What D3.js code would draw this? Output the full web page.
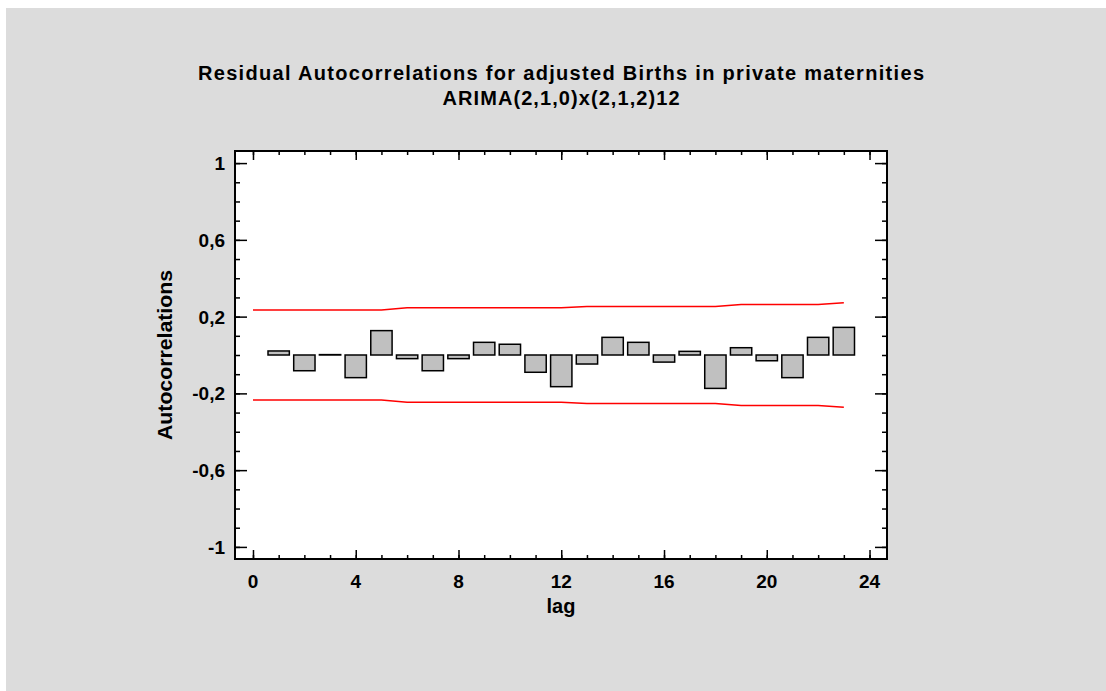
<!DOCTYPE html>
<html>
<head>
<meta charset="utf-8">
<script src="https://cdn.jsdelivr.net/npm/d3@7"></script>
<style>
    body{margin:0;background:#ffffff;}
    text{font-family:"Liberation Sans", Arial, sans-serif;font-weight:bold;fill:#000;}
</style>
</head>
<body>
<script>
//data
var lags=[1,2,3,4,5,6,7,8,9,10,11,12,13,14,15,16,17,18,19,20,21,22,23];
var acf=[0.021,-0.082,0.002,-0.118,0.127,-0.019,-0.082,-0.019,0.066,0.056,-0.09,-0.165,
         -0.047,0.092,0.066,-0.037,0.019,-0.174,0.038,-0.03,-0.118,0.092,0.144];
//probability limits, one point per lag 0..23
var limitLags=[0,1,2,3,4,5,6,7,8,9,10,11,12,13,14,15,16,17,18,19,20,21,22,23];
var limits=[0.235,0.235,0.235,0.235,0.235,0.235,0.246,0.246,0.246,0.246,0.246,0.246,0.246,
            0.253,0.253,0.253,0.253,0.253,0.253,0.263,0.263,0.263,0.263,0.272];
var xTicks=[0,4,8,12,16,20,24];
var yTicks=[-1,-0.6,-0.2,0.2,0.6,1];
var titleLines=["Residual Autocorrelations for adjusted Births in private maternities","ARIMA(2,1,0)x(2,1,2)12"];

function drawChart()
{
    var W=1106,H=691;
    var ml=235,mt=151,w=652,h=408;

    var svg=d3.select("body").append("svg").attr("width",W).attr("height",H);

    //grey panel
    svg.append("rect").attr("x",6).attr("y",8).attr("width",W-6).attr("height",H-8).attr("fill","#dcdcdc");

    var x=d3.scaleLinear().domain([-0.7,24.68]).range([ml,ml+w]);
    var y=d3.scaleLinear().domain([-1.063,1.063]).range([mt+h,mt]);

    //plot area
    svg.append("rect").attr("x",ml).attr("y",mt).attr("width",w).attr("height",h).attr("fill","#fff");

    var fmt=function(d){return String(d).replace(".",",");};

    //axes, ticks inside on all four sides
    var g=svg.append("g");
    function tickSet(axis,tr,len){
        g.append("g").attr("transform",tr)
            .call(axis.tickSizeInner(len).tickSizeOuter(0).tickFormat(""))
            .call(function(s){s.select(".domain").remove();s.selectAll("line").attr("stroke","#000").attr("stroke-width",1.5);});
    }
    var xMinor=d3.range(0,25,1), yMinor=d3.range(-10,11,1).map(function(d){return d/10;});
    tickSet(d3.axisTop(x).tickValues(xMinor),"translate(0,"+(mt+h)+")",4);
    tickSet(d3.axisTop(x).tickValues(xTicks),"translate(0,"+(mt+h)+")",9);
    tickSet(d3.axisBottom(x).tickValues(xMinor),"translate(0,"+mt+")",4);
    tickSet(d3.axisBottom(x).tickValues(xTicks),"translate(0,"+mt+")",9);
    tickSet(d3.axisRight(y).tickValues(yMinor),"translate("+ml+",0)",5);
    tickSet(d3.axisRight(y).tickValues(yTicks),"translate("+ml+",0)",12);
    tickSet(d3.axisLeft(y).tickValues(yMinor),"translate("+(ml+w)+",0)",5);
    tickSet(d3.axisLeft(y).tickValues(yTicks),"translate("+(ml+w)+",0)",12);

    //tick labels
    svg.append("g").selectAll("text").data(xTicks).enter().append("text")
        .attr("x",function(d){return x(d);}).attr("y",mt+h+29)
        .attr("text-anchor","middle").attr("font-size","19px").text(function(d){return d;});
    svg.append("g").selectAll("text").data(yTicks).enter().append("text")
        .attr("x",ml-10).attr("y",function(d){return y(d)+7;})
        .attr("text-anchor","end").attr("font-size","19px").text(fmt);

    //bars
    var bw=x(0.83)-x(0);
    svg.append("g").selectAll("rect").data(lags).enter().append("rect")
        .attr("x",function(d){return x(d)-bw/2;})
        .attr("y",function(d,i){return y(Math.max(0,acf[i]));})
        .attr("width",bw)
        .attr("height",function(d,i){return Math.abs(y(acf[i])-y(0));})
        .attr("fill","#c0c0c0").attr("stroke","#000").attr("stroke-width",1.5);

    //limit lines
    var upper=d3.line().x(function(d){return x(d);}).y(function(d,i){return y(limits[i]);});
    var lower=d3.line().x(function(d){return x(d);}).y(function(d,i){return y(-limits[i]);});
    svg.append("path").datum(limitLags).attr("d",upper).attr("fill","none").attr("stroke","#ff0000").attr("stroke-width",1.5);
    svg.append("path").datum(limitLags).attr("d",lower).attr("fill","none").attr("stroke","#ff0000").attr("stroke-width",1.5);

    //frame
    svg.append("rect").attr("x",ml).attr("y",mt).attr("width",w).attr("height",h)
        .attr("fill","none").attr("stroke","#000").attr("stroke-width",2);

    //titles, stretched to the width they have in the picture
    var titleWidths=[726,237];
    svg.append("g").selectAll("text").data(titleLines).enter().append("text")
        .attr("x",561).attr("y",function(d,i){return 80+i*25;})
        .attr("text-anchor","middle").attr("font-size","20px")
        .attr("textLength",function(d,i){return titleWidths[i];}).attr("lengthAdjust","spacing")
        .text(function(d){return d;});

    svg.append("text").attr("x",ml+w/2).attr("y",613)
        .attr("text-anchor","middle").attr("font-size","20px").text("lag");
    svg.append("text").attr("transform","translate(172,"+(mt+h/2)+") rotate(-90)")
        .attr("text-anchor","middle").attr("font-size","20px")
        .attr("textLength",170).attr("lengthAdjust","spacingAndGlyphs").text("Autocorrelations");
}

drawChart();
</script>
</body>
</html>
